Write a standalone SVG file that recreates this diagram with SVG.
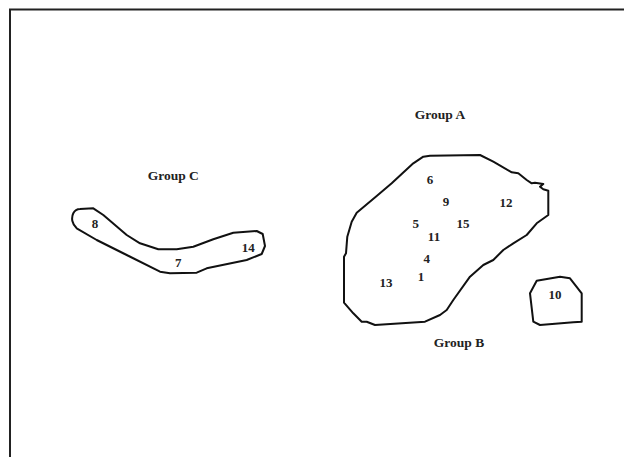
<svg xmlns="http://www.w3.org/2000/svg" width="624" height="457" viewBox="0 0 624 457">
<style>
.b{fill:none;stroke:#111;stroke-width:2;stroke-linejoin:round;stroke-linecap:round}
.fr{fill:none;stroke:#222;stroke-width:2}
text{font-family:"Liberation Serif","Times New Roman",serif;font-weight:bold;fill:#222;text-anchor:middle}
.n{font-size:13px}
.g{font-size:13.5px}
</style>
<rect width="624" height="457" fill="#fff"/>
<path class="fr" d="M10,457 V9.5 H624"/>
<g id="groupA">
<path class="b" d="M430,155.7 L480,155 L493.3,161.7 L511.7,172.3 L518.3,173.3 L526.7,180 L531.7,183.3 L535,182.7 L543.3,184 L540,186.7 L543.3,189.3 L548.3,190.7 L548.3,215 L536.7,223.3 L526.7,235 L513.3,243.3 L503.3,250 L493.3,260 L483.3,265 L470,276.7 L453.3,300 L446.7,310 L440,315 L425,321.7 L375,325 L366.7,321.7 L361.7,321.7 L353.3,313.3 L344,302.7 L344,256.7 L346,253.3 L347.3,236.7 L351.7,221.7 L356.7,212.7 L376.7,196 L391.7,183.3 L413.3,163.3 L423.3,156.7 Z"/>
<text class="g" x="440" y="119">Group A</text>
<text class="n" x="430" y="184">6</text>
<text class="n" x="446" y="205.5">9</text>
<text class="n" x="506" y="206.5">12</text>
<text class="n" x="415.7" y="227.5">5</text>
<text class="n" x="463" y="228">15</text>
<text class="n" x="434" y="240.5">11</text>
<text class="n" x="426.7" y="263.3">4</text>
<text class="n" x="421" y="281">1</text>
<text class="n" x="386" y="286.7">13</text>
</g>
<g id="groupB">
<text class="g" x="459" y="347.3">Group B</text>
</g>
<g id="node10">
<path class="b" d="M536.7,280.7 L560,276.7 L570,278.3 L581.7,293.3 L581.7,321.7 L573.3,322.3 L540,325 L533.3,321.7 L530,293.3 Z"/>
<text class="n" x="555" y="299.3">10</text>
</g>
<g id="groupC">
<path class="b" d="M73.3,213.3 C75,210 78,209 80,209 L93.3,208.3 L103.3,215 L126.7,235 L140,243.3 L158.3,249.3 L176.7,249.3 L193.3,246.7 L213.3,239.3 L233.3,232.7 L256.7,231 L262.7,234 L265,246 L261.7,254 L246.7,260 L206.7,268.3 L196.7,272.7 L170,273.3 L160,271.7 L126.7,255 L96.7,240 L76.7,228.3 C72,224 71,218 73.3,213.3 Z"/>
<text class="g" x="173.3" y="180">Group C</text>
<text class="n" x="95" y="228.3">8</text>
<text class="n" x="178.3" y="266.7">7</text>
<text class="n" x="248.3" y="251.7">14</text>
</g>
<g id="connectors"></g>
</svg>
